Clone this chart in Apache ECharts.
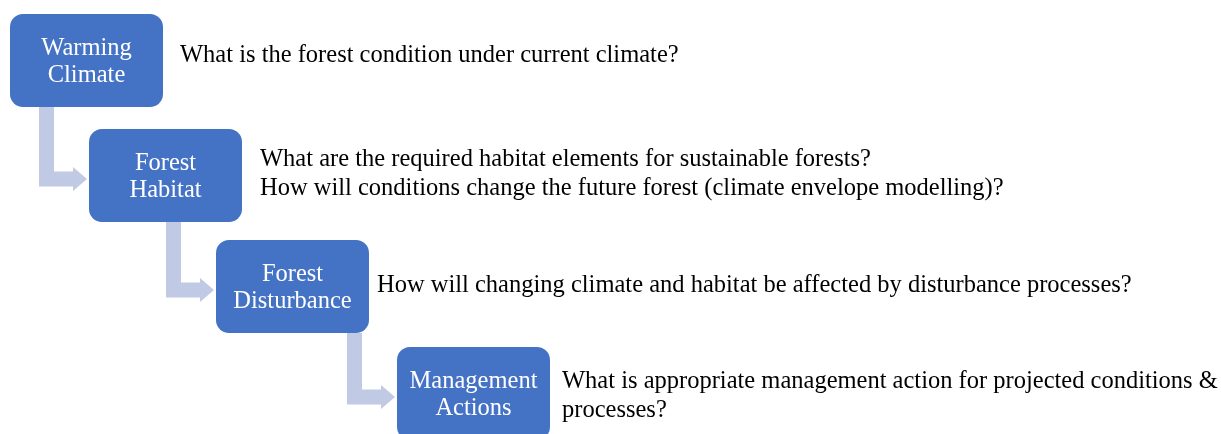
<!DOCTYPE html>
<html>
<head>
<meta charset="utf-8">
<script src="https://cdn.jsdelivr.net/npm/echarts@6/dist/echarts.min.js"></script>
<style>
  html, body { margin: 0; padding: 0; background: #fff; }
  #main { width: 1221px; height: 434px; }
</style>
</head>
<body>
<div id="main"></div>
<script>
// steps of the diagram
var stepNames = ['Warming\nClimate', 'Forest\nHabitat', 'Forest\nDisturbance', 'Management\nActions'];
var stepQuestions = [
    'What is the forest condition under current climate?',
    'What are the required habitat elements for sustainable forests?\nHow will conditions change the future forest (climate envelope modelling)?',
    'How will changing climate and habitat be affected by disturbance processes?',
    'What is appropriate management action for projected conditions &\nprocesses?'
];

// layout (pixel units on the hidden axes)
var boxPos = [[10, 14], [89, 129], [216, 240], [397, 347]];
var questionPos = [[180, 56], [260, 174], [377, 286], [562, 396]];
var boxW = 153, boxH = 93;

var chart = echarts.init(document.getElementById('main'));

function renderStep(params, api) {
    var i = api.value(0);
    var b = boxPos[i];
    var q = questionPos[i];
    var children = [];

    // bent arrow from previous box
    if (i > 0) {
        var p = boxPos[i - 1];
        var tip = b[0] - 2;
        var barL = tip - 48, barR = barL + 15;
        var top = p[1] + boxH;
        var cy = b[1] + 50;
        var pts = [
            [barL, top], [barR, top], [barR, cy - 7.5], [tip - 14, cy - 7.5],
            [tip - 14, cy - 12], [tip, cy], [tip - 14, cy + 12],
            [tip - 14, cy + 7.5], [barL, cy + 7.5]
        ].map(function (pt) { return api.coord(pt); });
        children.push({
            type: 'polygon',
            shape: { points: pts },
            style: { fill: '#C0CAE5' }
        });
    }

    var tl = api.coord(b);
    var br = api.coord([b[0] + boxW, b[1] + boxH]);
    children.push({
        type: 'rect',
        shape: { x: tl[0], y: tl[1], width: br[0] - tl[0], height: br[1] - tl[1], r: 13 },
        style: { fill: '#4472C4' }
    });
    children.push({
        type: 'text',
        style: {
            text: stepNames[i],
            x: (tl[0] + br[0]) / 2,
            y: (tl[1] + br[1]) / 2 + 1.5,
            fill: '#fff',
            fontFamily: 'Liberation Serif',
            fontSize: 24.5,
            lineHeight: 27,
            align: 'center',
            verticalAlign: 'middle'
        }
    });
    var qp = api.coord(q);
    children.push({
        type: 'text',
        style: {
            text: stepQuestions[i],
            x: qp[0],
            y: qp[1],
            fill: '#000',
            fontFamily: 'Liberation Serif',
            fontSize: 24.5,
            lineHeight: 29,
            align: 'left',
            verticalAlign: 'middle'
        }
    });
    return { type: 'group', children: children };
}

chart.setOption({
    animation: false,
    grid: { left: 0, right: 0, top: 0, bottom: 0 },
    xAxis: { type: 'value', min: 0, max: 1221, show: false },
    yAxis: { type: 'value', min: 0, max: 434, inverse: true, show: false },
    series: [{
        type: 'custom',
        renderItem: renderStep,
        clip: false,
        data: stepNames.map(function (n, i) { return [i]; })
    }]
});
</script>
</body>
</html>
